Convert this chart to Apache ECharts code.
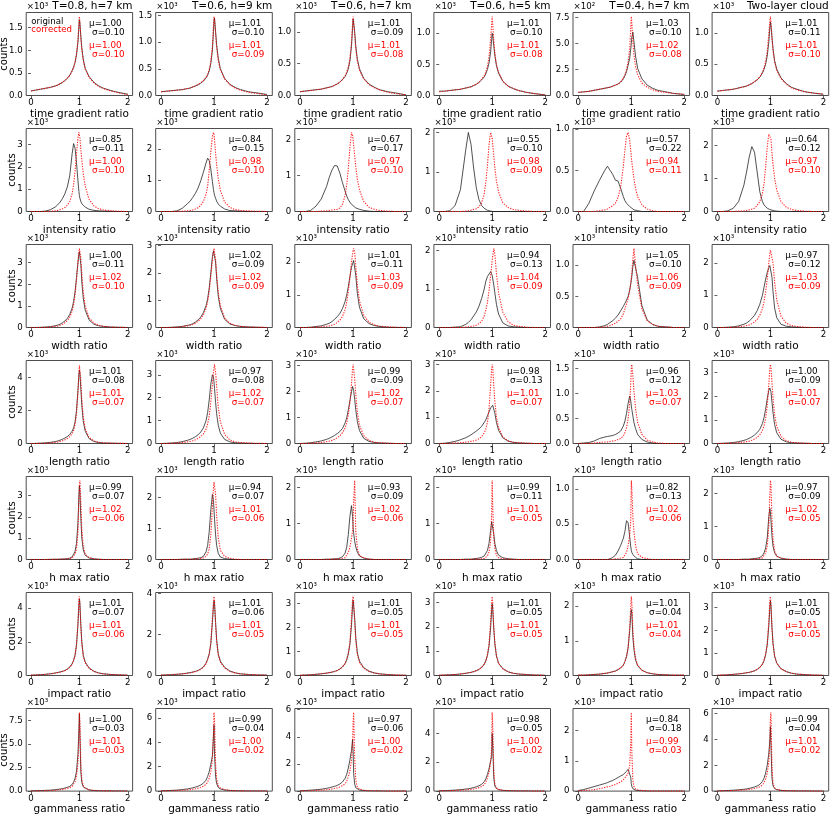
<!DOCTYPE html>
<html><head><meta charset="utf-8">
<script src="https://cdn.jsdelivr.net/npm/echarts@6/dist/echarts.min.js"></script>
<style>html,body{margin:0;padding:0;background:#fff}#c{width:830px;height:816px}</style>
</head><body><div id="c"></div>
<script>
// ---------- DATA ----------
const X = [0,0.1,0.2,0.3,0.4,0.5,0.55,0.6,0.65,0.7,0.75,0.8,0.85,0.88,0.91,0.94,0.97,0.99,1.0,1.01,1.03,1.05,1.08,1.12,1.2,1.3,1.4,1.5,1.65,1.8,2.0];
const xLabels = ['time gradient ratio','intensity ratio','width ratio','length ratio','h max ratio','impact ratio','gammaness ratio'];
const colTitles = ['T=0.8, h=7 km','T=0.6, h=9 km','T=0.6, h=7 km','T=0.6, h=5 km','T=0.4, h=7 km','Two-layer cloud'];
const legendLabels = ['original','corrected'];

const origTime = [
 [.10,.12,.14,.16,.18,.21,.23,.26,.29,.33,.38,.45,.55,.63,.73,.90,1.18,1.52,1.68,1.60,1.30,1.05,.80,.60,.42,.29,.21,.16,.11,.07,.03],
 [.07,.08,.09,.10,.11,.13,.14,.16,.18,.20,.23,.27,.33,.38,.46,.60,.85,1.20,1.40,1.45,1.20,.95,.70,.50,.32,.21,.15,.11,.07,.05,.02],
 [.06,.07,.08,.09,.10,.12,.13,.14,.16,.18,.21,.25,.30,.35,.42,.54,.78,1.05,1.20,1.22,1.00,.78,.57,.42,.27,.18,.13,.09,.06,.04,.01],
 [.07,.07,.08,.09,.10,.12,.13,.14,.16,.18,.21,.25,.30,.35,.42,.52,.70,.90,1.00,.96,.80,.64,.48,.36,.23,.15,.11,.08,.05,.03,.01],
 [.3,.35,.4,.5,.6,.7,.75,.8,.9,1.0,1.1,1.3,1.6,1.9,2.3,2.9,3.6,4.5,5.0,5.6,6.1,5.2,3.8,2.6,1.6,1.0,.7,.5,.35,.2,.1],
 [.07,.08,.09,.10,.12,.14,.15,.17,.19,.22,.25,.29,.36,.42,.50,.63,.85,1.08,1.17,1.12,.92,.74,.55,.42,.28,.19,.13,.10,.06,.04,.02]
];
const corrTime = [
 [.10,.12,.14,.16,.18,.21,.23,.26,.29,.33,.38,.44,.54,.62,.74,.92,1.22,1.60,1.75,1.62,1.28,1.02,.78,.58,.40,.28,.20,.15,.10,.06,.02],
 [.07,.08,.09,.10,.11,.13,.14,.16,.18,.21,.24,.28,.34,.40,.48,.64,.92,1.30,1.48,1.42,1.15,.90,.66,.48,.31,.20,.14,.10,.06,.04,.01],
 [.06,.07,.08,.09,.10,.12,.13,.14,.16,.18,.21,.25,.31,.37,.45,.58,.84,1.12,1.24,1.18,.95,.74,.54,.40,.26,.17,.12,.09,.05,.03,.01],
 [.06,.07,.08,.09,.10,.12,.13,.14,.16,.18,.21,.26,.32,.38,.47,.62,.90,1.15,1.27,1.15,.88,.68,.50,.37,.23,.15,.11,.08,.05,.03,.01],
 [.3,.35,.4,.5,.6,.7,.75,.8,.9,1.0,1.1,1.3,1.7,2.0,2.5,3.2,4.5,6.5,7.6,7.0,5.2,3.9,2.8,2.0,1.2,.8,.55,.4,.3,.2,.1],
 [.07,.08,.09,.10,.12,.14,.15,.17,.19,.22,.25,.30,.37,.44,.54,.70,.98,1.20,1.26,1.18,.92,.72,.53,.40,.27,.18,.12,.09,.06,.04,.02]
];
const origIntensity = [
 [0,0,0,.02,.08,.2,.3,.42,.58,.8,1.1,1.6,2.6,3.05,2.85,2.2,1.4,.9,.72,.6,.45,.35,.27,.2,.1,.05,.03,.02,.01,0,0],
 [0,0,0,.02,.1,.25,.33,.45,.58,.75,.98,1.25,1.55,1.7,1.62,1.35,.95,.7,.6,.52,.42,.33,.24,.17,.08,.03,.02,.01,0,0,0],
 [0,0,.03,.15,.35,.7,.95,1.15,1.28,1.27,1.07,.8,.56,.43,.33,.26,.2,.17,.16,.15,.12,.1,.08,.06,.03,.01,0,0,0,0,0],
 [0,0,.02,.15,.55,1.55,2.0,1.7,1.1,.6,.3,.15,.08,.05,.03,.02,.01,.01,.01,0,0,0,0,0,0,0,0,0,0,0,0],
 [0,0,.1,.25,.38,.5,.55,.5,.45,.38,.37,.28,.18,.13,.1,.08,.06,.05,.05,.04,.03,.02,.02,.01,0,0,0,0,0,0,0],
 [0,0,.02,.1,.3,.8,1.2,1.65,1.97,1.8,1.2,.6,.3,.2,.14,.1,.07,.06,.06,.05,.04,.03,.02,.01,0,0,0,0,0,0,0]
];
const corrIntensity = [
 [0,0,0,0,.01,.03,.05,.08,.12,.18,.28,.45,.8,1.2,1.8,2.6,3.3,3.55,3.5,3.3,2.8,2.3,1.7,1.15,.55,.25,.12,.07,.03,.01,0],
 [0,0,0,0,.01,.02,.03,.05,.08,.12,.2,.32,.55,.8,1.3,1.9,2.4,2.52,2.45,2.3,1.85,1.5,1.05,.68,.3,.13,.06,.03,.02,.01,0],
 [0,0,0,0,.01,.02,.03,.04,.05,.06,.1,.2,.45,.75,1.2,1.8,2.2,2.12,2.0,1.85,1.55,1.25,.9,.6,.28,.12,.06,.03,.01,0,0],
 [0,0,0,0,0,.01,.02,.03,.05,.07,.12,.22,.45,.75,1.15,1.7,2.0,1.95,1.85,1.7,1.4,1.1,.78,.5,.22,.1,.05,.03,.01,0,0],
 [0,0,0,0,.01,.02,.03,.05,.07,.1,.17,.3,.55,.75,.92,.96,.86,.74,.66,.6,.5,.4,.28,.18,.08,.03,.01,0,0,0,0],
 [0,0,0,0,.01,.02,.03,.05,.07,.1,.18,.3,.55,.85,1.35,1.95,2.35,2.4,2.35,2.2,1.78,1.42,1.0,.65,.3,.13,.06,.03,.01,0,0]
];
const origWidth = [
 [0,0,.01,.02,.04,.08,.11,.15,.22,.3,.42,.6,.9,1.2,1.65,2.3,3.0,3.4,3.5,3.45,2.9,2.1,1.35,.8,.35,.15,.08,.05,.02,.01,0],
 [0,0,.01,.02,.04,.08,.1,.14,.2,.28,.38,.55,.8,1.05,1.45,2.0,2.6,2.8,2.85,2.8,2.4,1.8,1.15,.7,.3,.13,.07,.04,.02,.01,0],
 [0,0,.01,.03,.05,.1,.13,.18,.25,.33,.43,.58,.8,1.0,1.25,1.55,1.85,1.95,2.0,2.05,2.0,1.6,1.05,.62,.27,.12,.06,.03,.01,0,0],
 [0,0,0,.01,.02,.08,.13,.2,.3,.4,.55,.75,1.0,1.2,1.32,1.3,1.45,1.4,1.35,1.3,1.1,.9,.6,.35,.12,.04,.02,.01,0,0,0],
 [0,0,0,0,.01,.03,.05,.08,.11,.15,.2,.27,.34,.39,.44,.5,.6,.7,.76,.82,.98,1.08,1.1,.8,.35,.12,.05,.02,.01,0,0],
 [0,0,.01,.02,.05,.1,.14,.2,.28,.38,.52,.72,1.0,1.25,1.5,1.7,1.85,1.92,1.95,1.9,1.55,1.1,.6,.3,.1,.04,.02,.01,0,0,0]
];
const corrWidth = [
 [0,0,0,.01,.02,.05,.07,.1,.15,.22,.32,.48,.75,1.05,1.5,2.2,3.0,3.5,3.65,3.6,3.2,2.5,1.6,1.0,.45,.2,.1,.05,.02,.01,0],
 [0,0,0,.01,.03,.06,.08,.11,.16,.23,.32,.47,.7,.95,1.35,1.9,2.5,2.8,2.9,2.85,2.5,1.95,1.3,.8,.35,.15,.08,.04,.02,.01,0],
 [0,0,0,.01,.02,.04,.05,.07,.1,.15,.22,.34,.55,.78,1.1,1.55,2.0,2.25,2.35,2.42,2.3,1.9,1.3,.82,.38,.16,.08,.04,.02,.01,0],
 [0,0,0,0,0,.01,.02,.03,.04,.06,.1,.16,.3,.45,.65,.95,1.35,1.6,1.75,1.85,2.05,1.9,1.4,.9,.4,.15,.06,.03,.01,0,0],
 [0,0,0,0,0,.01,.02,.03,.05,.07,.1,.14,.22,.3,.38,.47,.6,.72,.8,.88,1.1,1.27,1.0,.68,.3,.11,.05,.02,.01,0,0],
 [0,0,0,.01,.02,.04,.06,.08,.12,.17,.25,.38,.58,.8,1.1,1.5,2.0,2.3,2.4,2.45,2.35,2.0,1.4,.85,.35,.13,.06,.03,.01,0,0]
];
const origLength = [
 [0,.01,.02,.04,.07,.12,.15,.2,.26,.33,.42,.55,.75,.95,1.3,2.0,3.2,4.2,4.45,4.3,3.3,2.3,1.35,.75,.3,.12,.06,.03,.02,.01,0],
 [0,.01,.02,.04,.08,.14,.18,.23,.3,.38,.5,.68,1.0,1.35,1.9,2.6,3.0,2.9,2.7,2.4,1.8,1.3,.8,.45,.18,.07,.03,.02,.01,0,0],
 [0,.01,.03,.06,.1,.16,.2,.25,.31,.38,.46,.58,.8,1.0,1.3,1.65,2.0,2.2,2.15,2.05,1.7,1.3,.85,.5,.2,.08,.04,.02,.01,0,0],
 [0,.01,.04,.08,.14,.22,.27,.33,.4,.47,.55,.65,.8,.9,1.05,1.2,1.35,1.4,1.42,1.45,1.38,1.15,.8,.5,.22,.09,.04,.02,.01,0,0],
 [0,.01,.02,.05,.1,.13,.14,.15,.16,.18,.21,.25,.35,.45,.6,.8,.95,.85,.75,.68,.55,.42,.3,.18,.08,.03,.01,0,0,0,0],
 [0,.01,.02,.04,.08,.13,.17,.22,.28,.36,.46,.6,.85,1.1,1.45,1.9,2.25,2.35,2.3,2.2,1.75,1.3,.8,.45,.18,.07,.03,.02,.01,0,0]
];
const corrLength = [
 [0,0,.01,.02,.04,.07,.09,.12,.16,.22,.3,.42,.6,.8,1.15,1.8,3.1,4.3,4.75,4.8,3.8,2.7,1.6,.9,.38,.15,.07,.04,.02,.01,0],
 [0,0,.01,.02,.04,.07,.09,.12,.16,.22,.3,.42,.62,.85,1.2,1.8,2.6,3.1,3.3,3.45,3.1,2.5,1.6,.95,.4,.15,.07,.04,.02,.01,0],
 [0,0,.01,.02,.04,.07,.09,.12,.16,.22,.3,.42,.6,.8,1.1,1.6,2.3,2.9,3.05,3.0,2.5,1.9,1.2,.7,.3,.12,.05,.03,.01,0,0],
 [0,0,.01,.02,.03,.05,.06,.08,.1,.13,.18,.26,.4,.55,.8,1.3,2.2,2.85,3.0,2.9,2.2,1.6,1.0,.6,.25,.1,.05,.03,.01,0,0],
 [0,0,0,.01,.02,.03,.03,.04,.05,.06,.08,.1,.15,.22,.32,.5,.8,1.2,1.5,1.58,1.35,1.05,.7,.42,.18,.07,.03,.01,0,0,0],
 [0,0,.01,.02,.04,.06,.08,.1,.14,.19,.26,.37,.55,.75,1.05,1.6,2.5,3.2,3.35,3.25,2.6,1.9,1.2,.72,.3,.12,.05,.03,.01,0,0]
];
const origHmax = [
 [0,0,0,0,.01,.01,.01,.02,.02,.03,.04,.06,.12,.2,.38,.75,1.7,3.0,3.45,3.2,1.9,1.0,.45,.2,.07,.03,.01,0,0,0,0],
 [0,0,0,0,.01,.01,.01,.02,.03,.04,.06,.1,.25,.45,.9,1.6,2.1,1.9,1.6,1.3,.8,.45,.2,.08,.03,.01,0,0,0,0,0],
 [0,0,0,0,0,.01,.01,.01,.02,.02,.04,.08,.18,.35,.7,1.2,1.5,1.2,.9,.75,.5,.35,.2,.1,.04,.01,0,0,0,0,0],
 [0,0,0,0,0,.01,.01,.01,.02,.03,.04,.06,.1,.15,.25,.45,.8,1.05,1.1,1.0,.7,.45,.25,.12,.05,.02,.01,0,0,0,0],
 [0,0,0,0,0,0,0,.01,.03,.06,.12,.2,.3,.4,.55,.52,.32,.18,.13,.1,.07,.05,.03,.01,0,0,0,0,0,0,0],
 [0,0,0,0,0,.01,.01,.01,.02,.03,.04,.06,.12,.2,.35,.65,1.3,1.55,1.45,1.2,.7,.4,.2,.1,.04,.01,0,0,0,0,0]
];
const corrHmax = [
 [0,0,0,0,0,.01,.01,.01,.02,.02,.03,.04,.08,.13,.25,.5,1.3,2.8,3.45,3.7,2.7,1.4,.6,.25,.09,.03,.01,0,0,0,0],
 [0,0,0,0,0,.01,.01,.01,.02,.02,.03,.05,.1,.18,.35,.8,1.7,2.3,2.5,2.55,2.1,1.4,.7,.3,.1,.04,.01,0,0,0,0],
 [0,0,0,0,0,0,0,.01,.01,.01,.02,.03,.05,.1,.2,.35,.6,.8,1.0,1.6,2.2,.8,.3,.12,.04,.01,0,0,0,0,0],
 [0,0,0,0,0,0,0,0,.01,.01,.01,.02,.03,.05,.1,.2,.5,1.3,2.2,1.5,.6,.3,.12,.05,.02,.01,0,0,0,0,0],
 [0,0,0,0,0,0,0,0,0,.01,.01,.02,.03,.05,.1,.2,.35,.55,1.12,1.0,.6,.4,.2,.08,.03,.01,0,0,0,0,0],
 [0,0,0,0,0,0,0,0,.01,.01,.02,.03,.05,.1,.2,.4,1.0,2.0,2.4,2.3,1.2,.6,.25,.1,.04,.01,0,0,0,0,0]
];
const origImpact = [
 [.02,.03,.05,.07,.1,.15,.18,.21,.25,.3,.38,.5,.7,.9,1.2,1.8,3.0,4.2,4.55,4.3,3.0,2.0,1.2,.8,.45,.25,.15,.1,.06,.04,.02],
 [.02,.03,.04,.06,.08,.12,.14,.17,.2,.25,.32,.42,.6,.8,1.05,1.55,2.6,3.4,3.65,3.5,2.6,1.75,1.05,.7,.4,.22,.13,.08,.05,.03,.02],
 [.01,.02,.03,.05,.07,.1,.12,.14,.17,.21,.27,.36,.5,.66,.9,1.3,2.1,2.9,3.15,3.2,2.4,1.6,.95,.6,.33,.18,.11,.07,.04,.02,.01],
 [.01,.02,.03,.04,.06,.09,.11,.13,.16,.2,.25,.33,.46,.6,.82,1.2,1.95,2.7,2.95,2.7,1.9,1.3,.8,.5,.28,.15,.09,.06,.04,.02,.01],
 [.01,.01,.02,.03,.04,.06,.07,.09,.11,.13,.17,.22,.3,.4,.55,.8,1.3,1.75,1.9,1.8,1.1,.75,.45,.28,.15,.08,.05,.03,.02,.01,.01],
 [.01,.02,.03,.05,.07,.1,.12,.14,.17,.21,.27,.36,.5,.66,.92,1.35,2.2,3.0,3.3,3.1,2.1,1.4,.85,.55,.3,.17,.1,.06,.04,.02,.01]
];
const corrImpact = [
 [.02,.03,.05,.07,.1,.14,.17,.2,.24,.29,.37,.48,.68,.88,1.2,1.85,3.2,4.5,4.7,4.2,2.9,1.9,1.15,.75,.42,.24,.14,.09,.06,.04,.02],
 [.02,.03,.04,.06,.08,.11,.13,.16,.19,.24,.3,.4,.57,.77,1.05,1.6,2.8,3.6,3.86,3.6,2.5,1.65,1.0,.65,.37,.2,.12,.08,.05,.03,.01],
 [.01,.02,.03,.05,.07,.1,.12,.14,.17,.21,.27,.36,.5,.68,.95,1.4,2.4,3.15,3.3,3.1,2.2,1.45,.88,.55,.3,.17,.1,.06,.04,.02,.01],
 [.01,.02,.03,.04,.06,.09,.11,.13,.16,.2,.25,.33,.47,.62,.86,1.3,2.2,3.0,3.25,3.0,2.0,1.35,.82,.5,.28,.15,.09,.06,.04,.02,.01],
 [.01,.01,.02,.03,.04,.06,.07,.09,.11,.13,.17,.22,.3,.4,.55,.8,1.4,2.0,2.28,2.1,1.3,.85,.5,.3,.15,.08,.05,.03,.02,.01,.01],
 [.01,.02,.03,.05,.07,.1,.12,.14,.17,.21,.27,.36,.5,.68,.95,1.4,2.4,3.3,3.5,3.2,2.1,1.4,.85,.54,.3,.17,.1,.06,.04,.02,.01]
];
const origGammaness = [
 [.02,.04,.06,.08,.1,.15,.18,.22,.26,.32,.4,.5,.7,.95,1.35,2.1,3.9,6.5,8.2,6.0,2.0,.9,.45,.25,.12,.06,.04,.03,.02,.01,0],
 [.02,.04,.06,.08,.12,.18,.22,.27,.33,.4,.5,.65,.9,1.2,1.6,2.2,2.9,4.5,5.4,3.0,1.2,.6,.3,.18,.09,.05,.03,.02,.01,.01,0],
 [.02,.04,.07,.1,.14,.2,.25,.3,.35,.42,.52,.68,.95,1.25,1.7,2.3,3.0,3.8,3.0,1.3,.5,.25,.14,.08,.04,.02,.01,.01,0,0,0],
 [.02,.03,.05,.07,.1,.14,.17,.2,.24,.3,.37,.47,.65,.85,1.15,1.55,2.1,2.4,4.0,3.2,.9,.35,.18,.1,.05,.03,.02,.01,.01,0,0],
 [.02,.05,.1,.15,.2,.25,.28,.32,.35,.4,.45,.5,.55,.6,.65,.72,.7,.45,.25,.15,.08,.05,.03,.02,.01,0,0,0,0,0,0],
 [.01,.03,.05,.07,.1,.14,.17,.21,.26,.32,.4,.52,.75,1.0,1.4,2.0,2.9,4.0,5.0,3.6,1.0,.4,.2,.11,.05,.03,.02,.01,.01,0,0]
];
const corrGammaness = [
 [.01,.02,.03,.05,.07,.1,.12,.15,.18,.22,.28,.36,.5,.7,1.0,1.6,3.0,5.8,8.35,7.5,2.8,1.2,.55,.3,.14,.07,.04,.03,.02,.01,0],
 [.01,.02,.03,.05,.07,.1,.12,.15,.19,.24,.3,.4,.55,.75,1.05,1.6,2.6,4.8,6.45,5.8,2.2,1.0,.45,.25,.12,.06,.03,.02,.01,.01,0],
 [.01,.02,.03,.05,.07,.1,.12,.15,.19,.24,.3,.4,.55,.75,1.05,1.5,2.3,3.5,5.0,5.8,2.5,.8,.3,.15,.06,.03,.02,.01,0,0,0],
 [.01,.02,.03,.04,.06,.08,.1,.12,.15,.19,.24,.32,.45,.62,.9,1.3,2.0,3.0,5.45,4.6,1.4,.5,.22,.12,.05,.03,.02,.01,.01,0,0],
 [.01,.02,.03,.05,.08,.12,.14,.16,.19,.22,.26,.3,.38,.43,.5,.6,.85,1.6,2.6,1.3,.35,.15,.07,.04,.02,.01,0,0,0,0,0],
 [.01,.02,.03,.04,.06,.09,.11,.13,.16,.2,.26,.34,.48,.65,.95,1.4,2.2,3.8,5.6,6.1,1.8,.6,.25,.13,.06,.03,.02,.01,.01,0,0]
];

// tick step of the y axis and the power of ten of the offset label
const yStep = [
 [0.5,0.5,0.5,0.5,2.5,0.5],
 [1,1,1,1,0.5,1],
 [1,1,1,1,0.5,1],
 [2,1,1,1,0.5,1],
 [1,1,1,1,0.5,1],
 [2,2,1,1,1,1],
 [2.5,2,2,2,1,2]
];
const yExp = [
 [3,3,3,3,2,3],[3,3,3,3,3,3],[3,3,3,3,3,3],[3,3,3,3,3,3],[3,3,3,3,3,3],[3,3,3,3,3,3],[3,3,3,3,3,3]
];
const muOrig = [
 ['1.00','1.01','1.01','1.01','1.03','1.01'],
 ['0.85','0.84','0.67','0.55','0.57','0.64'],
 ['1.00','1.02','1.01','0.94','1.05','0.97'],
 ['1.01','0.97','0.99','0.98','0.96','1.00'],
 ['0.99','0.94','0.93','0.99','0.82','0.97'],
 ['1.01','1.01','1.01','1.01','1.01','1.01'],
 ['1.00','0.99','0.97','0.98','0.84','0.99']
];
const sigOrig = [
 ['0.10','0.10','0.09','0.10','0.10','0.11'],
 ['0.11','0.15','0.17','0.10','0.22','0.12'],
 ['0.11','0.09','0.11','0.13','0.10','0.12'],
 ['0.08','0.08','0.09','0.13','0.12','0.09'],
 ['0.07','0.07','0.09','0.11','0.13','0.09'],
 ['0.07','0.06','0.05','0.05','0.04','0.05'],
 ['0.03','0.04','0.06','0.05','0.18','0.04']
];
const muCorr = [
 ['1.00','1.01','1.01','1.01','1.02','1.01'],
 ['1.00','0.98','0.97','0.98','0.94','0.97'],
 ['1.02','1.02','1.03','1.04','1.06','1.03'],
 ['1.01','1.02','1.02','1.01','1.03','1.01'],
 ['1.02','1.01','1.02','1.01','1.02','1.02'],
 ['1.01','1.01','1.01','1.01','1.01','1.01'],
 ['1.01','1.00','1.00','1.00','0.99','1.01']
];
const sigCorr = [
 ['0.10','0.09','0.08','0.08','0.08','0.10'],
 ['0.10','0.10','0.10','0.09','0.11','0.10'],
 ['0.10','0.09','0.09','0.09','0.09','0.09'],
 ['0.07','0.07','0.07','0.07','0.07','0.07'],
 ['0.06','0.06','0.06','0.05','0.06','0.05'],
 ['0.06','0.05','0.05','0.05','0.04','0.05'],
 ['0.03','0.02','0.02','0.02','0.03','0.02']
];

// ---------- LAYOUT ----------
const FONT = '"DejaVu Sans", sans-serif';
const colLeft = [26.2, 155.7, 294.8, 433.9, 573.0, 712.1];
const colWidth = [106.4, 116.6, 116.6, 116.6, 116.6, 116.6];
const rowTop0 = 12.5, rowStep = 116, rowH = 83;
const BLACK = '#1a1a1a', RED = '#ff0000';
const TICK_FS = 8.6, NOTE_FS = 8.8, LABEL_FS = 10.5;

const orig = [origTime, origIntensity, origWidth, origLength, origHmax, origImpact, origGammaness];
const corr = [corrTime, corrIntensity, corrWidth, corrLength, corrHmax, corrImpact, corrGammaness];

const grids = [], xAxes = [], yAxes = [], series = [], graphics = [];
const sup = {'2':'\u00b2','3':'\u00b3'};
function txt(x, y, s, opts) {
  return Object.assign({type:'text', x:x, y:y, silent:true, style:Object.assign({
    text:s, fill:'#000', font:NOTE_FS + 'px ' + FONT, textAlign:'left', textVerticalAlign:'middle'
  }, opts || {})});
}

for (let r = 0; r < 7; r++) {
  for (let c = 0; c < 6; c++) {
    const idx = r * 6 + c;
    const L = colLeft[c], T = rowTop0 + r * rowStep, W = colWidth[c], H = rowH, R = L + W;
    const o = orig[r][c], k = corr[r][c];
    const ymax = Math.max(Math.max.apply(null, o), Math.max.apply(null, k)) * 1.05;
    const step = yStep[r][c];
    const ticks = [];
    for (let i = 0; i * step <= ymax + 1e-9; i++) ticks.push(+(i * step).toFixed(4));
    const dec = (step % 1 === 0) ? 0 : 1;
    grids.push({left:L, top:T, width:W, height:H, show:true, borderColor:'#3a3a3a', borderWidth:0.9, backgroundColor:'#fff'});
    xAxes.push({
      gridIndex:idx, type:'value', min:-0.1, max:2.1,
      axisLine:{show:false}, splitLine:{show:false},
      axisTick:{show:true, length:3, lineStyle:{color:'#3a3a3a', width:0.8}, customValues:[0,1,2]},
      axisLabel:{customValues:[0,1,2], fontSize:TICK_FS, color:'#000', margin:3, fontFamily:FONT},
      name:xLabels[r], nameLocation:'middle', nameGap:12,
      nameTextStyle:{fontSize:LABEL_FS, color:'#000', fontFamily:FONT}
    });
    yAxes.push({
      gridIndex:idx, type:'value', min:0, max:ymax,
      axisLine:{show:false}, splitLine:{show:false},
      axisTick:{show:true, length:3, lineStyle:{color:'#3a3a3a', width:0.8}, customValues:ticks},
      axisLabel:{customValues:ticks, fontSize:TICK_FS, color:'#000', margin:3.5, fontFamily:FONT,
        formatter:function(v){ return Number(v).toFixed(dec); }}
    });
    series.push({type:'line', xAxisIndex:idx, yAxisIndex:idx, data:X.map((x,i)=>[x, o[i]]),
      symbol:'none', silent:true, lineStyle:{color:BLACK, width:0.9, opacity:0.85}, z:2});
    series.push({type:'line', xAxisIndex:idx, yAxisIndex:idx, data:X.map((x,i)=>[x, k[i]]),
      symbol:'none', silent:true, lineStyle:{color:RED, width:1.1, type:[1.3,1.3], opacity:0.85}, z:3});

    // offset label
    graphics.push(txt(L + 0.5, T - 6, '\u00d710' + sup[String(yExp[r][c])], {font:TICK_FS + 'px ' + FONT}));
    // stats
    graphics.push(txt(R - 11, T + 11, '\u03bc=' + muOrig[r][c], {textAlign:'right'}));
    graphics.push(txt(R - 8, T + 20.5, '\u03c3=' + sigOrig[r][c], {textAlign:'right'}));
    graphics.push(txt(R - 11, T + 33.5, '\u03bc=' + muCorr[r][c], {textAlign:'right', fill:RED}));
    graphics.push(txt(R - 8, T + 42, '\u03c3=' + sigCorr[r][c], {textAlign:'right', fill:RED}));
    if (r === 0) graphics.push(txt(R, 5.8, colTitles[c], {textAlign:'right', font:LABEL_FS + 'px ' + FONT}));
    if (c === 0) {
      // y label sits just left of the widest tick label of this panel
      const lblW = (dec ? 1.59 : 0.64) * TICK_FS;
      const cx = L - 3.5 - lblW - 5;
      graphics.push({type:'text', x:cx, y:T + H / 2, rotation:Math.PI / 2, silent:true,
        style:{text:'counts', fill:'#000', font:'10px ' + FONT, textAlign:'center', textVerticalAlign:'middle'}});
    }
  }
}
// legend (text only) in the first panel
graphics.push(txt(colLeft[0] + 5, rowTop0 + 9.3, legendLabels[0], {font:'8.6px ' + FONT}));
graphics.push(txt(colLeft[0] + 5, rowTop0 + 17.6, legendLabels[1], {font:'8.6px ' + FONT, fill:RED}));

const chart = echarts.init(document.getElementById('c'), null, {width:830, height:816});
chart.setOption({
  animation:false,
  backgroundColor:'#fff',
  textStyle:{fontFamily:FONT},
  grid:grids, xAxis:xAxes, yAxis:yAxes, series:series,
  graphic:{elements:graphics}
});
</script></body></html>
